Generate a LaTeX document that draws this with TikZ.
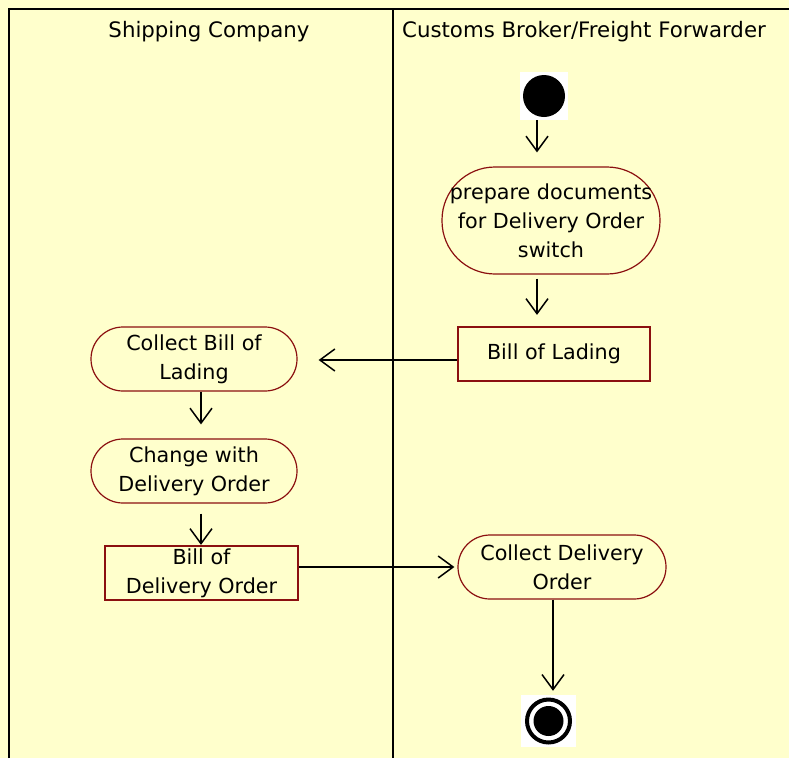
\documentclass[tikz,border=0pt]{standalone}
\usepackage{fontspec}
\setmainfont{DejaVu Sans}
\usepackage{tikz}
\usetikzlibrary{positioning, arrows.meta}
\usepackage{xcolor}

\definecolor{laneBg}{HTML}{FFFFCC}
\definecolor{actBorder}{HTML}{8B1010}

\begin{document}
\begin{tikzpicture}[
    x=1pt, y=-1pt,
    % activity shapes
    action/.style={rectangle, draw=actBorder, line width=1.2pt, rounded corners=32pt, minimum height=64pt, align=center, inner sep=0pt, font=\fontsize{20.7}{29}\selectfont},
    doc/.style={rectangle, draw=actBorder, line width=2.2pt, minimum height=54pt, align=center, inner sep=0pt, font=\fontsize{20.7}{29}\selectfont},
    lane/.style={font=\fontsize{21.3}{25}\selectfont},
    % open arrows
    arr/.style={-{Straight Barb[length=15pt, width=22pt, line width=1.5pt]}, line width=1.5pt, color=black},
]

% ==================== background and lanes ====================
\fill[laneBg] (0,0) rectangle (789,758);
\useasboundingbox (0,0) rectangle (789,758);
\draw[line width=2pt] (9,758) -- (9,9) -- (789,9);
\draw[line width=2pt] (393,9) -- (393,758);

\node[lane] (lane_ship) at (209,32) {Shipping Company};
\node[lane] (lane_cust) at (584,32) {Customs Broker/Freight Forwarder};

% ==================== start / end ====================
\node[rectangle, fill=white, minimum width=48pt, minimum height=48pt, inner sep=0pt,
      path picture={\fill[black] (path picture bounding box.center) circle (21pt);}] (start) at (544,96) {};
\node[rectangle, fill=white, minimum width=55pt, minimum height=52pt, inner sep=0pt,
      path picture={\draw[black, line width=4pt] (path picture bounding box.center) circle (21.5pt);
                    \fill[black] (path picture bounding box.center) circle (15pt);}] (stop) at (548.5,721) {};

% ==================== customs broker lane ====================
\node[action, rounded corners=53pt, minimum width=218pt, minimum height=107pt] (prep) at (551,220.5) {prepare documents\\for Delivery Order\\switch};
\node[doc, minimum width=192pt] (lading) at (554,354) {Bill of Lading};
\node[action, minimum width=208pt] (collect_do) at (562,567) {Collect Delivery\\Order};

% ==================== shipping company lane ====================
\node[action, minimum width=206pt] (collect_bl) at (194,359) {Collect Bill of\\Lading};
\node[action, minimum width=206pt] (change) at (194,471) {Change with\\Delivery Order};
\node[doc, minimum width=193pt] (bill_do) at (201.5,573) {Bill of\\Delivery Order};

% ==================== flows ====================
\draw[arr, shorten >=14pt] ([xshift=-7pt]start.south) -- ([xshift=-7pt]start.south |- prep.north);
\draw[arr, shorten <=4pt, shorten >=11pt] ([xshift=-14pt]prep.south) -- ([xshift=-14pt]prep.south |- lading.north);
\draw[arr, shorten >=21pt] ([yshift=-6pt]lading.west) -- ([yshift=-6pt]lading.west -| collect_bl.east);
\draw[arr, shorten >=14pt] ([xshift=7pt]collect_bl.south) -- ([xshift=7pt]collect_bl.south |- change.north);
\draw[arr, shorten <=10pt] ([xshift=7pt]change.south) -- ([xshift=7pt]change.south |- bill_do.north);
\draw[arr, shorten >=3pt] ([yshift=6pt]bill_do.east) -- ([yshift=6pt]bill_do.east -| collect_do.west);
\draw[arr, shorten >=4pt] ([xshift=-9pt]collect_do.south) -- ([xshift=-9pt]collect_do.south |- stop.north);

\end{tikzpicture}
\end{document}
